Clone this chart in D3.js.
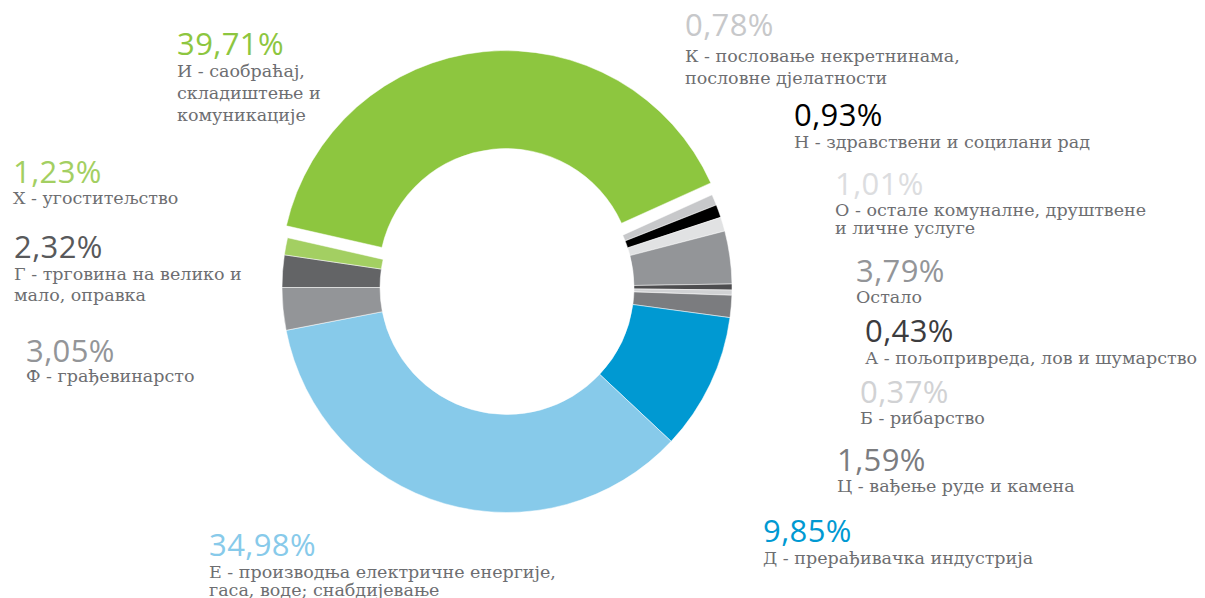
<!DOCTYPE html>
<html>
<head>
<meta charset="utf-8">
<script src="https://cdn.jsdelivr.net/npm/d3@7"></script>
<style>
  html, body { margin: 0; padding: 0; background: #fff; }
  svg { display: block; }
</style>
</head>
<body>
<svg id="chart" width="1205" height="598"></svg>
<script>
// ---- data (clockwise from 9 o'clock) ----
const categories = [
  ["Г - трговина на велико и", "мало, оправка"],
  ["Х - угоститељство"],
  ["И - саобраћај,", "складиштење и", "комуникације"],
  ["К - пословање некретнинама,", "пословне дјелатности"],
  ["Н - здравствени и социлани рад"],
  ["О - остале комуналне, друштвене", "и личне услуге"],
  ["Остало"],
  ["А - пољопривреда, лов и шумарство"],
  ["Б - рибарство"],
  ["Ц - вађење руде и камена"],
  ["Д - прерађивачка индустрија"],
  ["Е - производња електричне енергије,", "гаса, воде; снабдијевање"],
  ["Ф - грађевинарсто"]
];
const values = [2.32, 1.23, 39.71, 0.78, 0.93, 1.01, 3.79, 0.43, 0.37, 1.59, 9.85, 34.98, 3.05];
const exploded = [false, false, true, false, false, false, false, false, false, false, false, false, false];

// ---- styles ----
const sliceColors = ["#636466", "#a3cf62", "#8dc63f", "#c7c8ca", "#000000", "#e1e2e3", "#939598",
                     "#4d4d4f", "#d1d2d4", "#7b7c7f", "#0099d2", "#87caea", "#939598"];
const pctColors   = ["#58595b", "#a3cf62", "#8dc63f", "#c7c8ca", "#000000", "#dcdddf", "#939598",
                     "#3c3c3e", "#d1d2d4", "#7b7c7f", "#0099d2", "#87caea", "#939598"];
// label layout: [x, percent baseline, first text baseline, line height]
const labelLayout = [
  [14, 258, 279.5, 21],
  [13, 183, 204, 21],
  [177, 55, 77, 22],
  [685, 36, 62, 22],
  [794, 126, 148, 21],
  [835, 194.5, 215.5, 18],
  [856, 282, 303, 21],
  [865, 342, 364, 21],
  [860, 403, 424, 21],
  [837, 471, 492, 21],
  [763, 542, 564, 21],
  [209, 556, 578, 17.5],
  [26, 362, 382, 21]
];

const cx = 507, cy = 287.5, rOuter = 225, rInner = 127, explodeBy = 12;

const svg = d3.select("#chart");
const g = svg.append("g").attr("transform", `translate(${cx},${cy})`);

const pie = d3.pie().sort(null).value(d => d)
  .startAngle(1.5 * Math.PI).endAngle(3.5 * Math.PI);
const arc = d3.arc().innerRadius(rInner).outerRadius(rOuter);
const arcs = pie(values);

g.selectAll("path.slice")
  .data(arcs)
  .join("path")
  .attr("class", "slice")
  .attr("d", arc)
  .attr("fill", (d, i) => sliceColors[i])
  .attr("stroke", "#fff")
  .attr("stroke-width", 0.5)
  .attr("transform", (d, i) => {
    if (!exploded[i]) return null;
    const a = (d.startAngle + d.endAngle) / 2;
    return `translate(${explodeBy * Math.sin(a)},${-explodeBy * Math.cos(a)})`;
  });

const fmt = v => d3.format(".2f")(v).replace(".", ",") + "%";

const labels = svg.selectAll("g.label")
  .data(values)
  .join("g")
  .attr("class", "label");

labels.append("text")
  .attr("x", (d, i) => labelLayout[i][0])
  .attr("y", (d, i) => labelLayout[i][1])
  .attr("fill", (d, i) => pctColors[i])
  .style("font-family", "'Open Sans', sans-serif")
  .style("font-size", "31px")
  .style("letter-spacing", "0.4px")
  .text(d => fmt(d));

labels.each(function (d, i) {
  const [x, , y0, lh] = labelLayout[i];
  d3.select(this).selectAll("text.desc")
    .data(categories[i])
    .join("text")
    .attr("class", "desc")
    .attr("x", x)
    .attr("y", (t, j) => y0 + j * lh)
    .attr("fill", "#6d6e71")
    .style("font-family", "'DejaVu Serif', serif")
    .style("font-size", "17.5px")
    .text(t => t);
});
</script>
</body>
</html>
